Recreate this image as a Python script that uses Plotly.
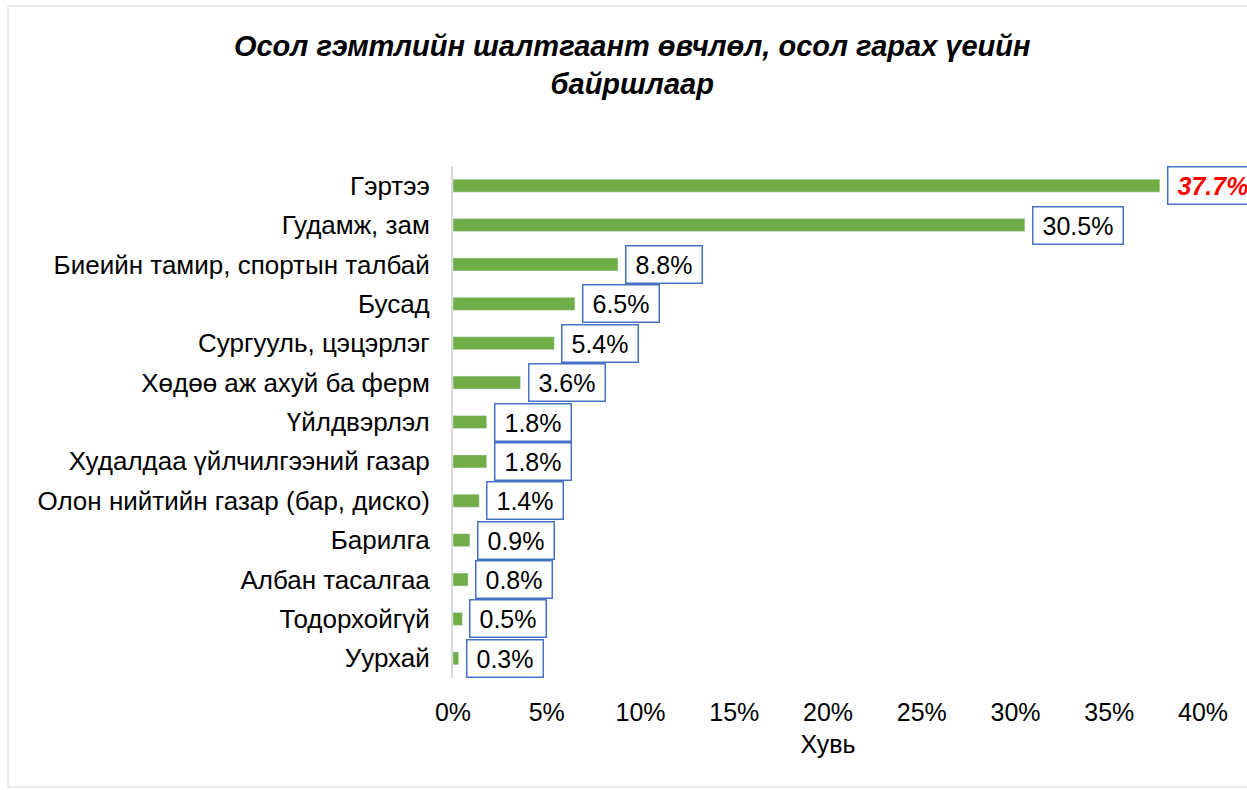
import plotly.graph_objects as go

categories = ["Гэртээ", "Гудамж, зам", "Биеийн тамир, спортын талбай", "Бусад",
              "Сургууль, цэцэрлэг", "Хөдөө аж ахуй ба ферм", "Үйлдвэрлэл",
              "Худалдаа үйлчилгээний газар", "Олон нийтийн газар (бар, диско)",
              "Барилга", "Албан тасалгаа", "Тодорхойгүй", "Уурхай"]
values = [37.7, 30.5, 8.8, 6.5, 5.4, 3.6, 1.8, 1.8, 1.4, 0.9, 0.8, 0.5, 0.3]
labels = ["37.7%", "30.5%", "8.8%", "6.5%", "5.4%", "3.6%", "1.8%", "1.8%",
          "1.4%", "0.9%", "0.8%", "0.5%", "0.3%"]
tick_vals = [0, 5, 10, 15, 20, 25, 30, 35, 40]
tick_text = ["0%", "5%", "10%", "15%", "20%", "25%", "30%", "35%", "40%"]

FONT = "Liberation Sans, Arial, sans-serif"
PAD = "&#8201;"

fig = go.Figure(go.Bar(
    x=values, y=categories, orientation="h",
    marker=dict(color="#70AD47"), width=0.33,
))

annotations = []
for i, (c, v, t) in enumerate(zip(categories, values, labels)):
    if i == 0:
        txt = PAD + "<b><i>" + t + "</i></b>" + PAD
        fcol = "#FF0000"
    else:
        txt = PAD + t + PAD
        fcol = "#000000"
    annotations.append(dict(
        x=v, y=c, xref="x", yref="y", text=txt, showarrow=False,
        xanchor="left", yanchor="middle", xshift=7,
        font=dict(family=FONT, size=25, color=fcol),
        bordercolor="#4472C4", borderwidth=1.5, borderpad=4,
        bgcolor="white",
    ))

fig.update_layout(
    width=1247, height=790,
    margin=dict(l=453, r=44, t=166, b=112),
    paper_bgcolor="white", plot_bgcolor="white",
    font=dict(family=FONT, size=26, color="#000000"),
    title=dict(
        text="<b><i>Осол гэмтлийн шалтгаант өвчлөл, осол гарах үеийн<br>байршлаар</i></b>",
        x=0.507, xanchor="center", y=0.929, yanchor="middle",
        font=dict(family=FONT, size=29, color="#000000"),
    ),
    xaxis=dict(
        range=[0, 40], tickvals=tick_vals, ticktext=tick_text,
        showgrid=False, zeroline=False, showline=False,
        tickfont=dict(size=25), ticks="",
        ticklabelstandoff=17,
        title=dict(text="Хувь", font=dict(size=25), standoff=10),
        fixedrange=True,
    ),
    yaxis=dict(
        autorange="reversed", showgrid=False, zeroline=False,
        showline=True, linecolor="#D9D9D9", linewidth=2,
        ticks="", ticklabelstandoff=16,
        tickfont=dict(size=26),
    ),
    annotations=annotations,
    showlegend=False,
    shapes=[dict(
        type="rect", xref="paper", yref="paper",
        x0=-0.5933, x1=1.2, y0=-0.213, y1=1.3125,
        line=dict(color="#D9D9D9", width=1), layer="below",
    )],
)

fig.write_html("out.html", config={"displayModeBar": False},
               post_script="document.body.style.margin='0px';")
